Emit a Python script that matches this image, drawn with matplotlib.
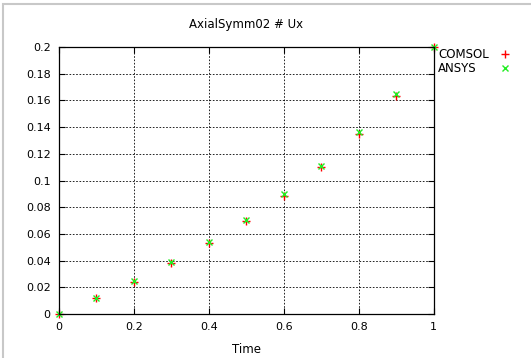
import matplotlib.pyplot as plt
from matplotlib.patches import Rectangle
from matplotlib.lines import Line2D

time = [0.0, 0.1, 0.2, 0.3, 0.4, 0.5, 0.6, 0.7, 0.8, 0.9, 1.0]
comsol = [0.0, 0.0118, 0.0243, 0.0385, 0.0535, 0.0697, 0.0886, 0.1103, 0.1348, 0.1633, 0.2]
ansys = [0.0, 0.0121, 0.0250, 0.0392, 0.0542, 0.0706, 0.0897, 0.1112, 0.1360, 0.1646, 0.2]

xticks = [0, 0.2, 0.4, 0.6, 0.8, 1]
xticklabels = ["0", "0.2", "0.4", "0.6", "0.8", "1"]
yticks = [0, 0.02, 0.04, 0.06, 0.08, 0.1, 0.12, 0.14, 0.16, 0.18, 0.2]
yticklabels = ["0", "0.02", "0.04", "0.06", "0.08", "0.1", "0.12", "0.14", "0.16", "0.18", "0.2"]

plt.rcParams["font.family"] = "DejaVu Sans"

fig = plt.figure(figsize=(5.31, 3.58), dpi=100)
ax = fig.add_axes([0.111, 0.1229, 0.706, 0.7458])

# thin grey frame round the window
fig.patches.append(Rectangle((0.006, -0.05), 1.2, 1.04, transform=fig.transFigure,
                             fill=False, edgecolor="#c8c8c8", linewidth=1.5))

styles = [
    dict(marker="+", color="red", markersize=6, markeredgewidth=1.0),
    dict(marker="x", color="#22ee22", markersize=5, markeredgewidth=1.0),
]
names = ["COMSOL", "ANSYS"]

for ys, st, name in zip([comsol, ansys], styles, names):
    ax.plot(time, ys, linestyle="none", label=name, clip_on=False, **st)

ax.set_xlim(0, 1)
ax.set_ylim(0, 0.2)
ax.set_xticks(xticks)
ax.set_xticklabels(xticklabels)
ax.set_yticks(yticks)
ax.set_yticklabels(yticklabels)
ax.tick_params(direction="in", top=True, right=True, length=4, labelsize=8,
               width=0.8, pad=6)
ax.grid(True, color="black", linestyle=(0, (2, 2)), linewidth=0.6)
for s in ax.spines.values():
    s.set_linewidth(0.9)

ax.set_xlabel("Time", fontsize=8.5, labelpad=8)
ax.set_title("AxialSymm02 # Ux", fontsize=8.5, pad=14)

# gnuplot-style key: left-aligned names, sample marker on the right
for i, (st, name) in enumerate(zip(styles, names)):
    yk = (358 - 54 - 14 * i) / 358
    fig.text(438 / 531, yk, name, fontsize=8.5, va="center", ha="left")
    fig.add_artist(Line2D([505 / 531], [yk], transform=fig.transFigure,
                          linestyle="none", **st))

fig.savefig("out.png", dpi=100)
